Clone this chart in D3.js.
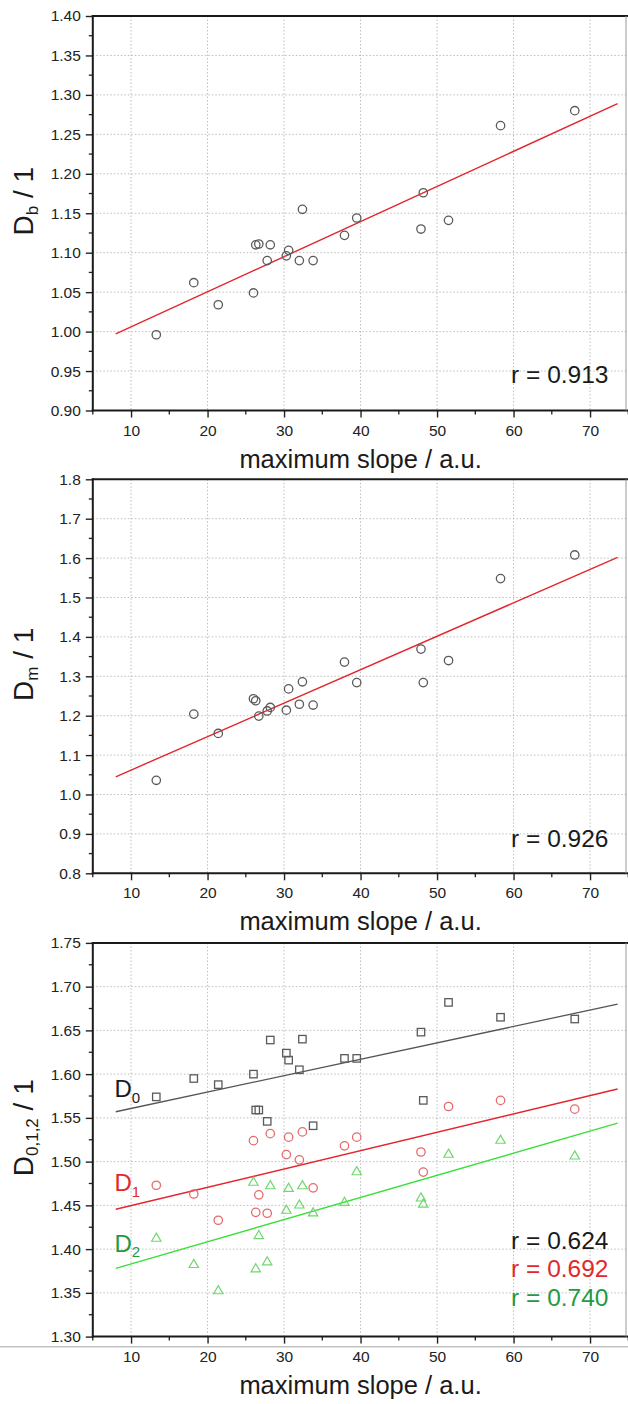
<!DOCTYPE html>
<html><head><meta charset="utf-8">
<script src="https://cdn.jsdelivr.net/npm/d3@7"></script>
<style>
html,body{margin:0;padding:0;background:#fff;}
svg{display:block;font-family:"Liberation Sans",Arial,sans-serif;}
</style></head>
<body>
<svg id="c" width="628" height="1404"></svg>
<script>
// ---------- data ----------
const xSlope = [13.3,18.2,21.4,26.0,26.3,26.7,27.8,28.2,30.3,30.6,32.0,32.4,33.8,37.9,39.5,47.9,48.2,51.5,58.3,68.0];
const Db = [0.996,1.062,1.034,1.049,1.110,1.111,1.090,1.110,1.096,1.103,1.090,1.155,1.090,1.122,1.144,1.130,1.176,1.141,1.261,1.280];
const Dm = [1.036,1.204,1.155,1.243,1.238,1.199,1.212,1.221,1.214,1.268,1.229,1.286,1.227,1.336,1.284,1.369,1.284,1.340,1.548,1.608];
const D0 = [1.574,1.595,1.588,1.600,1.559,1.559,1.546,1.639,1.624,1.616,1.605,1.640,1.541,1.618,1.618,1.648,1.570,1.682,1.665,1.663];
const D1 = [1.473,1.463,1.433,1.524,1.442,1.462,1.441,1.532,1.508,1.528,1.502,1.534,1.470,1.518,1.528,1.511,1.488,1.563,1.570,1.560];
const D2 = [1.413,1.383,1.353,1.477,1.378,1.416,1.386,1.473,1.445,1.470,1.451,1.473,1.442,1.454,1.489,1.459,1.452,1.509,1.525,1.507];
const fitX = [8, 73.6];
const fitDb = [0.997, 1.289];
const fitDm = [1.045, 1.602];
const fitD0 = [1.557, 1.680];
const fitD1 = [1.4455, 1.583];
const fitD2 = [1.378, 1.544];
const xTicks = [10,20,30,40,50,60,70];
const yTicksB = [0.90,0.95,1.00,1.05,1.10,1.15,1.20,1.25,1.30,1.35,1.40];
const yTicksM = [0.8,0.9,1.0,1.1,1.2,1.3,1.4,1.5,1.6,1.7,1.8];
const yTicks012 = [1.30,1.35,1.40,1.45,1.50,1.55,1.60,1.65,1.70,1.75];
const rB = "r = 0.913", rM = "r = 0.926";
const r012 = ["r = 0.624","r = 0.692","r = 0.740"];
const xTitle = "maximum slope / a.u.";

// ---------- drawing ----------
const svg = d3.select("#c");
const X0 = 92.8, X1 = 628.3;
const x = d3.scaleLinear().domain([5,75]).range([X0,X1]);

const panels = [
  {top:16, bottom:410.5, dom:[0.9,1.4], ticks:yTicksB, minor:0.025, fmt:d3.format(".2f"), main:"D", sub:"b"},
  {top:479.3, bottom:873.3, dom:[0.8,1.8], ticks:yTicksM, minor:0.05, fmt:d3.format(".1f"), main:"D", sub:"m"},
  {top:942.9, bottom:1336.6, dom:[1.3,1.75], ticks:yTicks012, minor:0.025, fmt:d3.format(".2f"), main:"D", sub:"0,1,2"}
];

panels.forEach((p,i)=>{
  const y = d3.scaleLinear().domain(p.dom).range([p.bottom,p.top]);
  p.y = y;
  const g = svg.append("g");
  // grid
  g.append("g").selectAll("line").data(xTicks).join("line")
    .attr("x1",d=>x(d)).attr("x2",d=>x(d)).attr("y1",p.top).attr("y2",p.bottom)
    .attr("stroke","#bdbdbd").attr("stroke-width",1).attr("stroke-dasharray","1.5,2");
  g.append("g").selectAll("line").data(p.ticks.slice(1,-1)).join("line")
    .attr("x1",X0).attr("x2",X1).attr("y1",d=>y(d)).attr("y2",d=>y(d))
    .attr("stroke","#bdbdbd").attr("stroke-width",1).attr("stroke-dasharray","1.5,2");
  if(i===2){
    svg.append("line").attr("x1",0).attr("x2",628).attr("y1",1346.7).attr("y2",1346.7)
      .attr("stroke","#c4c4c4").attr("stroke-width",1.6);
  }
  // minor ticks
  const yMinor = d3.range(p.dom[0], p.dom[1]+1e-9, p.minor).filter(v=>!p.ticks.some(t=>Math.abs(t-v)<1e-6));
  g.append("g").selectAll("line").data(yMinor).join("line")
    .attr("x1",X0-4).attr("x2",X0).attr("y1",d=>y(d)).attr("y2",d=>y(d))
    .attr("stroke","#222").attr("stroke-width",1.3);
  const xMinor = d3.range(5,76,10);
  g.append("g").selectAll("line").data(xMinor).join("line")
    .attr("x1",d=>x(d)).attr("x2",d=>x(d)).attr("y1",p.bottom).attr("y2",p.bottom+4)
    .attr("stroke","#222").attr("stroke-width",1.3);
  // axes
  const ay = d3.axisLeft(y).tickValues(p.ticks).tickFormat(p.fmt).tickSize(7).tickPadding(5);
  const ax = d3.axisBottom(x).tickValues(xTicks).tickFormat(d3.format("d")).tickSize(7).tickPadding(7);
  const gy = g.append("g").attr("transform",`translate(${X0},0)`).call(ay);
  const gx = g.append("g").attr("transform",`translate(0,${p.bottom})`).call(ax);
  [gy,gx].forEach(a=>{
    a.select(".domain").remove();
    a.selectAll(".tick line").attr("stroke","#222").attr("stroke-width",1.4);
    a.selectAll(".tick text").attr("fill","#222").style("font-size","15.5px")
      .style("font-family","'Liberation Sans',Arial,sans-serif");
  });
  // frame
  g.append("line").attr("x1",X0).attr("x2",X0).attr("y1",p.top-1).attr("y2",p.bottom+1).attr("stroke","#1a1a1a").attr("stroke-width",2);
  g.append("line").attr("x1",X0-1).attr("x2",628).attr("y1",p.bottom).attr("y2",p.bottom).attr("stroke","#1a1a1a").attr("stroke-width",2);
  g.append("line").attr("x1",X0-1).attr("x2",628).attr("y1",p.top).attr("y2",p.top).attr("stroke","#1a1a1a").attr("stroke-width",2);
  g.append("line").attr("x1",626).attr("x2",626).attr("y1",p.top).attr("y2",p.bottom).attr("stroke","#999").attr("stroke-width",1);
  // x title
  g.append("text").attr("x",(X0+X1)/2).attr("y",p.bottom+57).attr("text-anchor","middle")
    .attr("fill","#1a1a1a").style("font-size","25.5px").text(xTitle);
  // y title
  const cy = (p.top+p.bottom)/2 - 12;
  const t = g.append("text").attr("transform",`translate(33,${cy}) rotate(-90)`).attr("text-anchor","middle")
    .attr("fill","#1a1a1a").style("font-size","28px");
  t.append("tspan").text(p.main);
  t.append("tspan").attr("dy",5).style("font-size","17px").text(p.sub);
  t.append("tspan").attr("dy",-5).text(" / 1");
});

const lineGen = (p, vals) => d3.line().x(d=>x(d[0])).y(d=>p.y(d[1]))(fitX.map((v,k)=>[v,vals[k]]));

function circles(p, vals, color){
  svg.append("g").selectAll("circle").data(xSlope.map((v,k)=>[v,vals[k]])).join("circle")
    .attr("cx",d=>x(d[0])).attr("cy",d=>p.y(d[1])).attr("r",4.2)
    .attr("fill","none").attr("stroke",color).attr("stroke-width",1.3);
}
function squares(p, vals, color){
  const s=7.4;
  svg.append("g").selectAll("rect").data(xSlope.map((v,k)=>[v,vals[k]])).join("rect")
    .attr("x",d=>x(d[0])-s/2).attr("y",d=>p.y(d[1])-s/2).attr("width",s).attr("height",s)
    .attr("fill","none").attr("stroke",color).attr("stroke-width",1.3);
}
function triangles(p, vals, color){
  const sym = d3.symbol().type(d3.symbolTriangle).size(38);
  svg.append("g").selectAll("path").data(xSlope.map((v,k)=>[v,vals[k]])).join("path")
    .attr("transform",d=>`translate(${x(d[0])},${p.y(d[1])+0.8})`).attr("d",sym())
    .attr("fill","none").attr("stroke",color).attr("stroke-width",1.2);
}

// panel 1
const P1 = panels[0], P2 = panels[1], P3 = panels[2];
svg.append("path").attr("d",lineGen(P1,fitDb)).attr("stroke","#e3262d").attr("stroke-width",1.4).attr("fill","none");
circles(P1, Db, "#5a5a5a");
svg.append("text").attr("x",608.5).attr("y",383.3).attr("text-anchor","end").attr("fill","#1a1a1a").style("font-size","24.5px").text(rB);

// panel 2
svg.append("path").attr("d",lineGen(P2,fitDm)).attr("stroke","#e3262d").attr("stroke-width",1.4).attr("fill","none");
circles(P2, Dm, "#5a5a5a");
svg.append("text").attr("x",608.5).attr("y",846.7).attr("text-anchor","end").attr("fill","#1a1a1a").style("font-size","24.5px").text(rM);

// panel 3
svg.append("path").attr("d",lineGen(P3,fitD0)).attr("stroke","#555").attr("stroke-width",1.3).attr("fill","none");
svg.append("path").attr("d",lineGen(P3,fitD1)).attr("stroke","#e3262d").attr("stroke-width",1.4).attr("fill","none");
svg.append("path").attr("d",lineGen(P3,fitD2)).attr("stroke","#3ae03a").attr("stroke-width",1.4).attr("fill","none");
squares(P3, D0, "#5a5a5a");
circles(P3, D1, "#e66a6c");
triangles(P3, D2, "#6fd86f");

const rCols = ["#1a1a1a","#e02a2a","#1f9a45"];
const rY = [1249, 1277.3, 1305.6];
r012.forEach((s,k)=>{
  svg.append("text").attr("x",608.5).attr("y",rY[k]).attr("text-anchor","end").attr("fill",rCols[k]).style("font-size","24.5px").text(s);
});
const dLab = [["0",1097.3,"#1a1a1a"],["1",1191,"#e02a2a"],["2",1251.7,"#1f9a45"]];
dLab.forEach(d=>{
  const t = svg.append("text").attr("x",114.5).attr("y",d[1]).attr("fill",d[2]).style("font-size","24px");
  t.append("tspan").text("D");
  t.append("tspan").attr("dy",5.5).style("font-size","15px").text(d[0]);
});
</script>
</body></html>
